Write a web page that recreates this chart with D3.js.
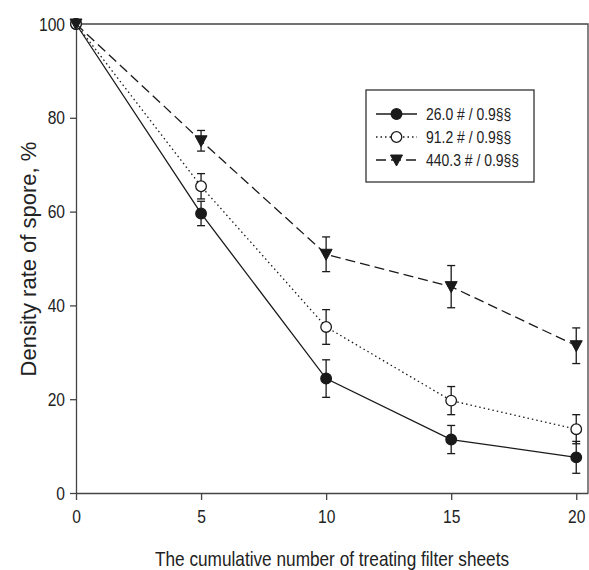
<!DOCTYPE html>
<html>
<head>
<meta charset="utf-8">
<script src="https://cdn.jsdelivr.net/npm/d3@7"></script>
<style>
  body { margin: 0; background: #fff; }
  text { font-family: "Liberation Sans", Arial, sans-serif; fill: #222; }
</style>
</head>
<body>
<div id="chart"></div>
<script>
// cumulative number of filter sheets
var sheets = [0, 5, 10, 15, 20];

// density rate of spore (%) and error bars
var s26 = [100, 59.6, 24.4, 11.4, 7.6];
var s26Err = [0, 2.6, 4.0, 3.0, 3.4];
var s91 = [100, 65.4, 35.4, 19.7, 13.6];
var s91Err = [0, 2.7, 3.7, 3.0, 3.1];
var s440 = [100, 75.1, 50.9, 44.0, 31.4];
var s440Err = [0, 2.2, 3.7, 4.5, 3.8];

var seriesNames = ["26.0 # / 0.9§§", "91.2 # / 0.9§§", "440.3 # / 0.9§§"];

var xTicks = [0, 5, 10, 15, 20];
var yTicks = [0, 20, 40, 60, 80, 100];

var margin = { top: 24, right: 1, bottom: 77, left: 76 },
  width = 589 - margin.left - margin.right,
  height = 570 - margin.top - margin.bottom;

// the original uses a narrow sans; squeeze regular glyphs horizontally
function narrow(sel) {
  sel.each(function () {
    var len = this.getComputedTextLength();
    d3.select(this)
      .attr("textLength", len * 0.82)
      .attr("lengthAdjust", "spacingAndGlyphs");
  });
}

var svg = d3.select("#chart")
  .append("svg")
  .attr("width", 589)
  .attr("height", 570)
  .append("g")
  .attr("transform", "translate(" + margin.left + "," + margin.top + ")");

var x = d3.scaleLinear().domain([0, 20.47]).range([0, width]);
var y = d3.scaleLinear().domain([0, 100]).range([height, 0]);

// frame top + right
svg.append("path")
  .attr("d", "M0,0H" + width + "V" + height)
  .attr("fill", "none")
  .attr("stroke", "#444")
  .attr("stroke-width", 1.3);

var xAxis = svg.append("g")
  .attr("transform", "translate(0," + height + ")")
  .call(d3.axisBottom(x).tickValues(xTicks).tickSize(7).tickPadding(10).tickSizeOuter(0));

var yAxis = svg.append("g")
  .call(d3.axisLeft(y).tickValues(yTicks).tickSize(6).tickPadding(5).tickSizeOuter(0));

[xAxis, yAxis].forEach(function (a) {
  a.select(".domain").attr("stroke", "#444").attr("stroke-width", 1.3);
  a.selectAll(".tick line").attr("stroke", "#444").attr("stroke-width", 1.3);
  a.selectAll(".tick text").style("font-size", "19px").attr("fill", "#222").call(narrow);
});

var series = [
  { name: seriesNames[0], vals: s26, err: s26Err, dash: null, sym: "circle", fill: "#1a1a1a" },
  { name: seriesNames[1], vals: s91, err: s91Err, dash: "1.5,3", sym: "circle", fill: "#fff" },
  { name: seriesNames[2], vals: s440, err: s440Err, dash: "10,5", sym: "triangle", fill: "#1a1a1a" }
];

var line = d3.line()
  .x(function (d, i) { return x(sheets[i]); })
  .y(function (d) { return y(d); });

function drawSymbol(g, type, cx, cy, fill) {
  if (type == "circle") {
    g.append("circle")
      .attr("cx", cx).attr("cy", cy).attr("r", 5.3)
      .attr("fill", fill).attr("stroke", "#1a1a1a").attr("stroke-width", 1.3);
  } else {
    g.append("path")
      .attr("d", "M" + (cx - 6) + "," + (cy - 5) + "H" + (cx + 6) + "L" + cx + "," + (cy + 6) + "Z")
      .attr("fill", fill).attr("stroke", "#1a1a1a").attr("stroke-width", 1);
  }
}

series.forEach(function (s) {
  svg.append("path")
    .datum(s.vals)
    .attr("fill", "none")
    .attr("stroke", "#1a1a1a")
    .attr("stroke-width", 1.3)
    .attr("stroke-dasharray", s.dash)
    .attr("d", line);

  // error bars
  s.vals.forEach(function (v, i) {
    if (!s.err[i]) return;
    var cx = x(sheets[i]);
    var g = svg.append("g").attr("stroke", "#1a1a1a").attr("stroke-width", 1.3);
    g.append("line").attr("x1", cx).attr("x2", cx).attr("y1", y(v + s.err[i])).attr("y2", y(v - s.err[i]));
    g.append("line").attr("x1", cx - 4).attr("x2", cx + 4).attr("y1", y(v + s.err[i])).attr("y2", y(v + s.err[i]));
    g.append("line").attr("x1", cx - 4).attr("x2", cx + 4).attr("y1", y(v - s.err[i])).attr("y2", y(v - s.err[i]));
  });

  s.vals.forEach(function (v, i) {
    drawSymbol(svg, s.sym, x(sheets[i]), y(v), s.fill);
  });
});

// legend
var legend = svg.append("g").attr("transform", "translate(" + (366 - margin.left) + "," + (90 - margin.top) + ")");
legend.append("rect")
  .attr("width", 168).attr("height", 92)
  .attr("fill", "#fff").attr("stroke", "#333").attr("stroke-width", 1.3);

series.forEach(function (s, i) {
  var ly = 24 + i * 23;
  legend.append("line")
    .attr("x1", 10).attr("x2", 51).attr("y1", ly).attr("y2", ly)
    .attr("stroke", "#1a1a1a").attr("stroke-width", 1.3)
    .attr("stroke-dasharray", s.dash);
  drawSymbol(legend, s.sym, 30.5, ly, s.fill);
  legend.append("text")
    .attr("x", 60).attr("y", ly)
    .attr("dy", "0.35em")
    .style("font-size", "17px")
    .text(s.name)
    .call(narrow);
});

// axis titles
svg.append("text")
  .attr("x", width / 2)
  .attr("y", height + 73)
  .attr("text-anchor", "middle")
  .style("font-size", "21px")
  .text("The cumulative number of treating filter sheets")
  .call(narrow);

svg.append("text")
  .attr("transform", "translate(" + (-margin.left + 36) + "," + (259 - margin.top) + ") rotate(-90)")
  .attr("text-anchor", "middle")
  .style("font-size", "22px")
  .text("Density rate of spore, %");
</script>
</body>
</html>
